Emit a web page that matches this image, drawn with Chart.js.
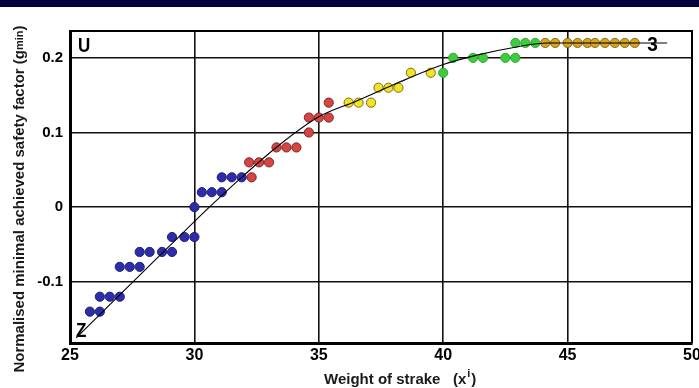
<!DOCTYPE html>
<html>
<head>
<meta charset="utf-8">
<script src="https://cdn.jsdelivr.net/npm/chart.js@4.4.1/dist/chart.umd.min.js"></script>
<style>
html,body{margin:0;padding:0;background:#fff;}
canvas{display:block;}
</style>
</head>
<body>
<canvas id="c" width="699" height="388"></canvas>
<script>
// ---- data ----
const xTicks = [25, 30, 35, 40, 45, 50];
const yTicks = [-0.1, 0, 0.1, 0.2];

const blueX = [25.8, 26.2, 26.2, 26.6, 27.0, 27.0, 27.4, 27.8, 27.8, 28.2, 28.7, 29.1, 29.1, 29.6, 30.0, 30.0, 30.3, 30.7, 31.1, 31.1, 31.5, 31.9];
const blueY = [-0.14, -0.14, -0.12, -0.12, -0.12, -0.08, -0.08, -0.08, -0.06, -0.06, -0.06, -0.06, -0.04, -0.04, -0.04, 0.0, 0.02, 0.02, 0.02, 0.04, 0.04, 0.04];

const redX = [32.3, 32.2, 32.6, 33.0, 33.3, 33.7, 34.1, 34.6, 34.6, 35.0, 35.4, 35.4];
const redY = [0.04, 0.06, 0.06, 0.06, 0.08, 0.08, 0.08, 0.10, 0.12, 0.12, 0.12, 0.14];

const yellowX = [36.2, 36.6, 37.1, 37.4, 37.8, 38.2, 38.7, 39.5];
const yellowY = [0.14, 0.14, 0.14, 0.16, 0.16, 0.16, 0.18, 0.18];

const greenX = [40.0, 40.4, 41.2, 41.6, 42.5, 42.9, 42.9, 43.3, 43.7];
const greenY = [0.18, 0.20, 0.20, 0.20, 0.20, 0.20, 0.22, 0.22, 0.22];

const orangeX = [44.1, 44.5, 45.0, 45.4, 45.8, 46.1, 46.5, 46.9, 47.3, 47.7];
const orangeY = [0.22, 0.22, 0.22, 0.22, 0.22, 0.22, 0.22, 0.22, 0.22, 0.22];

const curveX = [25.25, 26.5, 27.5, 29.0, 30.6, 32.0, 33.4, 35.0, 36.5, 38.0, 40.0, 41.4, 43.0, 44.2, 46.0, 49.0];
const curveY = [-0.175, -0.134, -0.101, -0.052, 0.0, 0.043, 0.083, 0.121, 0.142, 0.164, 0.191, 0.204, 0.215, 0.22, 0.22, 0.22];

const pts = (xs, ys) => xs.map((x, i) => ({x: x, y: ys[i]}));

function dots(xs, ys, bg, bd) {
  return {
    data: pts(xs, ys), backgroundColor: bg, borderColor: bd, borderWidth: 1,
    pointRadius: 4.6, pointHoverRadius: 4.6, showLine: false, order: 1
  };
}

const FONT = '"Liberation Sans", Arial, sans-serif';

function stretchText(ctx, txt, x, y, sy) {
  ctx.save();
  ctx.translate(x, y);
  ctx.scale(1, sy);
  ctx.fillText(txt, 0, 0);
  ctx.restore();
}

const decor = {
  id: 'decor',
  beforeDraw(chart) {
    const ctx = chart.ctx;
    ctx.save();
    ctx.fillStyle = '#06063c';
    ctx.fillRect(0, 0, chart.width, 7);
    ctx.restore();
  },
  beforeDatasetsDraw(chart) {
    const ctx = chart.ctx, a = chart.chartArea;
    ctx.save();
    ctx.strokeStyle = '#000';
    ctx.lineWidth = 2;
    ctx.beginPath();
    ctx.moveTo(a.left, a.top); ctx.lineTo(a.right, a.top); ctx.lineTo(a.right, a.bottom);
    ctx.stroke();
    ctx.restore();
  },
  afterDraw(chart) {
    const ctx = chart.ctx, a = chart.chartArea;
    const xs = chart.scales.x, ys = chart.scales.y;
    ctx.save();
    ctx.fillStyle = '#000';
    ctx.textBaseline = 'alphabetic';
    ctx.textAlign = 'left';
    ctx.font = 'bold 17px ' + FONT;
    stretchText(ctx, 'U', a.left + 8, a.top + 21, 1.15);
    ctx.font = 'bold 17px ' + FONT;
    stretchText(ctx, 'Z', a.left + 6, a.bottom - 6, 1.15);
    ctx.font = 'bold 19px ' + FONT;
    stretchText(ctx, '3', xs.getPixelForValue(48.2), ys.getPixelForValue(0.22) + 8, 1.05);

    // y axis title
    ctx.save();
    ctx.translate(24, 199);
    ctx.rotate(-Math.PI / 2);
    ctx.fillStyle = '#1a1a1a';
    const main = 'Normalised minimal achieved safety factor (g';
    ctx.font = 'bold 15px ' + FONT;
    const w1 = ctx.measureText(main).width;
    ctx.font = 'bold 11px ' + FONT;
    const w2 = ctx.measureText('min').width;
    ctx.font = 'bold 15px ' + FONT;
    const w3 = ctx.measureText(')').width;
    let x0 = -(w1 + w2 + w3) / 2;
    ctx.fillText(main, x0, 0);
    ctx.font = 'bold 11px ' + FONT;
    ctx.fillText('min', x0 + w1, -1);
    ctx.font = 'bold 15px ' + FONT;
    ctx.fillText(')', x0 + w1 + w2, 0);
    ctx.restore();

    // x axis title
    ctx.fillStyle = '#1a1a1a';
    ctx.font = 'bold 15px ' + FONT;
    const t1 = 'Weight of strake   (x';
    ctx.fillText(t1, 324, 384);
    const tw = ctx.measureText(t1).width;
    ctx.font = 'bold 11px ' + FONT;
    ctx.fillText('i', 324 + tw + 1, 377);
    const iw = ctx.measureText('i').width;
    ctx.font = 'bold 15px ' + FONT;
    ctx.fillText(')', 324 + tw + iw + 2, 384);
    ctx.restore();
  }
};

new Chart(document.getElementById('c'), {
  type: 'scatter',
  data: {
    datasets: [
      {
        data: pts(curveX, curveY), showLine: true, borderColor: '#000', borderWidth: 1.1,
        pointRadius: 0, pointHoverRadius: 0, fill: false, cubicInterpolationMode: 'monotone', order: 0
      },
      dots(blueX, blueY, '#2d2daa', '#1e1e7e'),
      dots(redX, redY, '#d64444', '#7c2424'),
      dots(yellowX, yellowY, '#f3e324', '#7c6c12'),
      dots(greenX, greenY, '#3fcb3f', '#2fa82f'),
      dots(orangeX, orangeY, '#d5a326', '#8f6a10')
    ]
  },
  options: {
    responsive: false,
    animation: false,
    devicePixelRatio: 1,
    layout: {padding: {top: 31, right: 7, bottom: 0, left: 0}},
    plugins: {legend: {display: false}, tooltip: {enabled: false}},
    scales: {
      x: {
        type: 'linear', min: 25, max: 50,
        afterBuildTicks: s => { s.ticks = xTicks.map(v => ({value: v})); },
        afterFit: s => { s.height = 45; s.paddingLeft = 0; s.paddingRight = 0; },
        ticks: {color: '#000', font: {family: FONT, size: 16, weight: 'bold'}, padding: 3, maxRotation: 0, autoSkip: false},
        grid: {color: '#111', lineWidth: 1.6, drawTicks: false},
        border: {color: '#000', width: 3}
      },
      y: {
        type: 'linear', min: -0.182, max: 0.236,
        afterBuildTicks: s => { s.ticks = yTicks.map(v => ({value: v})); },
        afterFit: s => { s.width = 70; },
        ticks: {color: '#000', font: {family: FONT, size: 15, weight: 'bold'}, padding: 7,
                callback: v => String(Math.round(v * 10) / 10)},
        grid: {color: '#111', lineWidth: 1.6, drawTicks: false},
        border: {color: '#000', width: 3}
      }
    }
  },
  plugins: [decor]
});
</script>
</body>
</html>
